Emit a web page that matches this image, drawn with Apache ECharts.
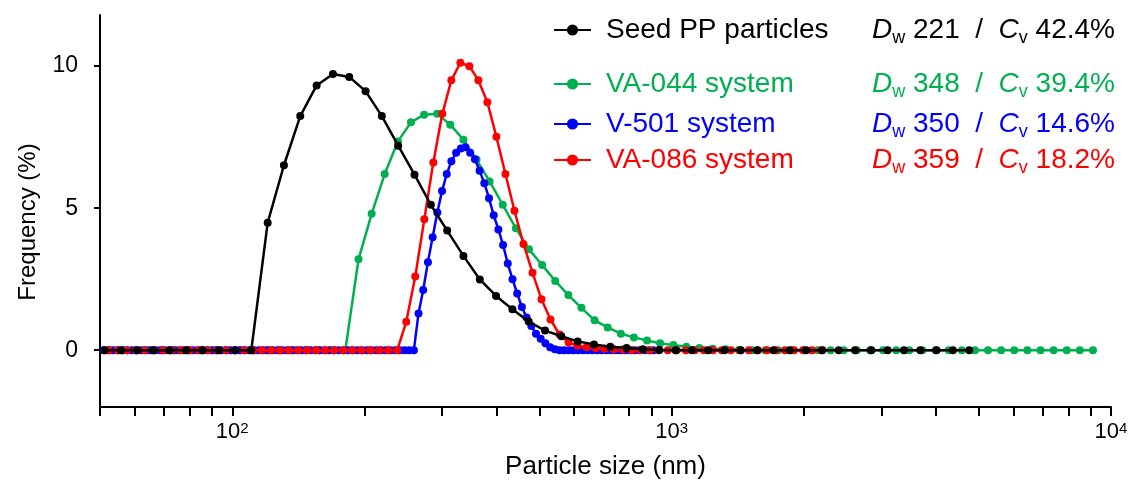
<!DOCTYPE html>
<html>
<head>
<meta charset="utf-8">
<script src="https://cdn.jsdelivr.net/npm/echarts@6/dist/echarts.min.js"></script>
<style>
  html, body { margin: 0; padding: 0; background: #ffffff; }
  #chart { width: 1139px; height: 486px; }
</style>
</head>
<body>
<div id="chart"></div>
<script>
// Particle size distributions (size in nm, frequency in %)
const seriesNames = ['Seed PP particles', 'VA-044 system', 'V-501 system', 'VA-086 system'];
const seriesColors = ['#000000', '#00b050', '#0000ff', '#ff0000'];
const dwValues = [221, 348, 350, 359];
const cvValues = ['42.4', '39.4', '14.6', '18.2'];

const seedSize = [
  51.20, 55.77, 60.75, 66.17, 72.08, 78.51, 85.52, 93.15, 101.5, 110.5,
  120.4, 131.1, 142.8, 155.6, 169.5, 184.6, 201.1, 219.0, 238.6, 259.9,
  283.1, 308.4, 335.9, 365.9, 398.5, 434.1, 472.8, 515.1, 561.0, 611.1,
  665.7, 725.1, 789.8, 860.3, 937.1, 1021, 1112, 1211, 1319, 1437,
  1565, 1705, 1857, 2023, 2204, 2400, 2615, 2848, 3102, 3379,
  3681, 4009, 4367, 4757
];
const seedFreq = [
  0, 0, 0, 0, 0, 0, 0, 0, 0, 0,
  4.49, 6.51, 8.24, 9.32, 9.72, 9.62, 9.12, 8.24, 7.20, 6.18,
  5.12, 4.21, 3.32, 2.49, 1.91, 1.44, 1.01, 0.69, 0.49, 0.31,
  0.20, 0.12, 0.08, 0.03, 0.01, 0, 0, 0, 0, 0,
  0, 0, 0, 0, 0, 0, 0, 0, 0, 0,
  0, 0, 0, 0
];

const va044Size = [
  52.50, 56.24, 60.24, 64.52, 69.11, 74.03, 79.30, 84.94, 90.98, 97.46,
  104.4, 111.8, 119.8, 128.3, 137.4, 147.2, 157.7, 168.9, 180.9, 193.8,
  207.6, 222.3, 238.2, 255.1, 273.3, 292.7, 313.5, 335.8, 359.7, 385.3,
  412.7, 442.1, 473.5, 507.2, 543.3, 582.0, 623.4, 667.8, 715.3, 766.2,
  820.7, 879.1, 941.6, 1009, 1080, 1157, 1240, 1328, 1422, 1524,
  1632, 1748, 1872, 2006, 2148, 2301, 2465, 2640, 2828, 3029,
  3245, 3476, 3723, 3988, 4272, 4576, 4901, 5250, 5623, 6023,
  6452, 6911, 7403, 7930, 8494, 9098
];
const va044Freq = [
  0, 0, 0, 0, 0, 0, 0, 0, 0, 0,
  0, 0, 0, 0, 0, 0, 0, 0, 0, 3.20,
  4.80, 6.20, 7.35, 8.02, 8.29, 8.32, 7.94, 7.41, 6.71, 5.94,
  5.12, 4.29, 3.55, 3.00, 2.44, 1.94, 1.49, 1.05, 0.80, 0.58,
  0.45, 0.34, 0.24, 0.18, 0.12, 0.08, 0.05, 0.03, 0.01, 0,
  0, 0, 0, 0, 0, 0, 0, 0, 0, 0,
  0, 0, 0, 0, 0, 0, 0, 0, 0, 0,
  0, 0, 0, 0, 0, 0
];

const v501Size = [
  50.98, 52.25, 53.55, 54.89, 56.26, 57.66, 59.10, 60.57, 62.08, 63.63,
  65.21, 66.84, 68.51, 70.21, 71.96, 73.76, 75.60, 77.48, 79.41, 81.39,
  83.42, 85.50, 87.63, 89.82, 92.06, 94.35, 96.71, 99.12, 101.6, 104.1,
  106.7, 109.4, 112.1, 114.9, 117.8, 120.7, 123.7, 126.8, 130.0, 133.2,
  136.5, 139.9, 143.4, 147.0, 150.6, 154.4, 158.2, 162.2, 166.2, 170.4,
  174.6, 179.0, 183.4, 188.0, 192.7, 197.5, 202.4, 207.5, 212.7, 218.0,
  223.4, 229.0, 234.7, 240.5, 246.5, 252.7, 259.0, 265.4, 272.0, 278.8,
  285.8, 292.9, 300.2, 307.7, 315.3, 323.2, 331.3, 339.5, 348.0, 356.7,
  365.5, 374.7, 384.0, 393.6, 403.4, 413.4, 423.7, 434.3, 445.1, 456.2,
  467.6, 479.3, 491.2, 503.5, 516.0, 528.9, 542.1, 555.6, 569.4, 583.6,
  598.2, 613.1, 628.4, 644.0, 660.1, 676.5, 693.4, 710.7, 728.4, 746.6,
  765.2, 784.3, 803.8, 823.8, 844.4, 865.4, 887.0, 909.1
];
const v501Freq = [
  0, 0, 0, 0, 0, 0, 0, 0, 0, 0,
  0, 0, 0, 0, 0, 0, 0, 0, 0, 0,
  0, 0, 0, 0, 0, 0, 0, 0, 0, 0,
  0, 0, 0, 0, 0, 0, 0, 0, 0, 0,
  0, 0, 0, 0, 0, 0, 0, 0, 0, 0,
  0, 0, 0, 0, 0, 0, 0, 0, 0, 0,
  0, 0, 0, 0, 0, 0, 0, 1.29, 2.12, 3.10,
  3.98, 4.85, 5.60, 6.20, 6.65, 6.95, 7.10, 7.14, 6.95, 6.72,
  6.32, 5.88, 5.35, 4.75, 4.25, 3.70, 3.05, 2.50, 2.00, 1.52,
  1.15, 0.85, 0.58, 0.40, 0.24, 0.10, 0.03, 0, 0, 0,
  0, 0, 0, 0, 0, 0, 0, 0, 0, 0,
  0, 0, 0, 0, 0, 0, 0, 0
];

const va086Size = [
  52.33, 54.86, 57.52, 60.30, 63.22, 66.28, 69.48, 72.85, 76.37, 80.07,
  83.94, 88.00, 92.26, 96.73, 101.4, 106.3, 111.5, 116.9, 122.5, 128.4,
  134.6, 141.2, 148.0, 155.2, 162.7, 170.5, 178.8, 187.4, 196.5, 206.0,
  216.0, 226.4, 237.4, 248.9, 260.9, 273.6, 286.8, 300.7, 315.2, 330.5,
  346.5, 363.2, 380.8, 399.2, 418.6, 438.8, 460.0, 482.3, 505.6, 530.1,
  555.8, 582.7, 610.9, 640.4, 671.4, 703.9, 738.0, 773.7, 811.1, 850.4,
  891.5, 934.6, 979.9, 1027, 1077, 1129, 1184, 1241, 1301, 1364,
  1430, 1499, 1572, 1648, 1728, 1811, 1899, 1991, 2087, 2188
];
const va086Freq = [
  0, 0, 0, 0, 0, 0, 0, 0, 0, 0,
  0, 0, 0, 0, 0, 0, 0, 0, 0, 0,
  0, 0, 0, 0, 0, 0, 0, 0, 0, 0,
  0, 0, 0, 1.00, 2.59, 4.61, 6.61, 8.32, 9.50, 10.12,
  10.00, 9.50, 8.73, 7.51, 6.20, 4.91, 3.74, 2.73, 1.79, 1.08,
  0.55, 0.27, 0.16, 0.10, 0.07, 0.05, 0.03, 0.02, 0, 0,
  0, 0, 0, 0, 0, 0, 0, 0, 0, 0,
  0, 0, 0, 0, 0, 0, 0, 0, 0, 0
];

// Axis ticks: log x axis with minor ticks at 2..9 x 10^n
const xTickValues = [50, 60, 70, 80, 90, 100, 200, 300, 400, 500, 600, 700, 800, 900,
  1000, 2000, 3000, 4000, 5000, 6000, 7000, 8000, 9000, 10000];
const xLabelValues = [100, 1000, 10000];
const yTickValues = [0, 5, 10];

const FONT = "'Liberation Sans', Arial, sans-serif";
const LEG_SIZE = 28;

const sizes = [seedSize, va044Size, v501Size, va086Size];
const freqs = [seedFreq, va044Freq, v501Freq, va086Freq];
const legendTops = [13, 67, 107, 143];

function pairs(xs, ys) {
  return xs.map((x, i) => [x, ys[i]]);
}

const chart = echarts.init(document.getElementById('chart'), null, { renderer: 'canvas' });

// drawing order: green underneath, black on top
const drawOrder = [1, 2, 3, 0];

const series = drawOrder.map(k => ({
  name: seriesNames[k],
  type: 'line',
  data: pairs(sizes[k], freqs[k]),
  symbol: 'circle',
  symbolSize: 8,
  showSymbol: true,
  color: seriesColors[k],
  lineStyle: { color: seriesColors[k], width: 2.5 },
  itemStyle: { color: seriesColors[k] },
  emphasis: { disabled: true },
  z: 2 + drawOrder.indexOf(k)
}));

const legends = seriesNames.map((name, k) => {
  const c = seriesColors[k];
  const base = { color: c, fontFamily: FONT, fontSize: LEG_SIZE, lineHeight: 34 };
  return {
    data: [{ name: name }],
    left: 553,
    top: legendTops[k],
    padding: 0,
    itemWidth: 37,
    itemHeight: 14,
    selectedMode: false,
    formatter: n => `{n|${n}}{i|D}{s|w}{t| ${dwValues[k]}  /  }{i|C}{s|v}{t| ${cvValues[k]}%}`,
    textStyle: Object.assign({}, base, {
      rich: {
        n: Object.assign({}, base, { width: 266, padding: [0, 0, 0, 10] }),
        i: Object.assign({}, base, { fontStyle: 'italic' }),
        s: { color: c, fontFamily: FONT, fontSize: 18, verticalAlign: 'bottom', lineHeight: 26 },
        t: base
      }
    })
  };
});

chart.setOption({
  animation: false,
  backgroundColor: '#ffffff',
  grid: { left: 100, right: 28, top: 15, bottom: 79 },
  legend: legends,
  xAxis: {
    type: 'log',
    logBase: 10,
    min: 50,
    max: 10000,
    name: 'Particle size (nm)',
    nameLocation: 'middle',
    nameGap: 47,
    nameTextStyle: { color: '#000', fontFamily: FONT, fontSize: 26 },
    axisLine: { show: true, onZero: false, lineStyle: { color: '#000', width: 2 } },
    axisTick: { show: true, customValues: xTickValues, length: 9, lineStyle: { color: '#000', width: 2 } },
    minorTick: { show: false },
    splitLine: { show: false },
    axisLabel: {
      customValues: xLabelValues,
      margin: 14,
      color: '#000',
      fontFamily: FONT,
      fontSize: 22,
      formatter: v => '10{sup|' + Math.round(Math.log10(v)) + '}',
      rich: {
        sup: { fontFamily: FONT, fontSize: 15, color: '#000', verticalAlign: 'top', lineHeight: 14 }
      }
    }
  },
  yAxis: {
    type: 'value',
    min: -2,
    max: 11.8,
    name: 'Frequency (%)',
    nameLocation: 'middle',
    nameGap: 60,
    nameRotate: 90,
    nameTextStyle: { color: '#000', fontFamily: FONT, fontSize: 24, padding: [0, 22, 0, 0] },
    axisLine: { show: true, lineStyle: { color: '#000', width: 2 } },
    axisTick: { show: true, customValues: yTickValues, length: 6, lineStyle: { color: '#000', width: 2 } },
    splitLine: { show: false },
    axisLabel: {
      customValues: yTickValues,
      margin: 22,
      color: '#000',
      fontFamily: FONT,
      fontSize: 23
    }
  },
  series: series
});
</script>
</body>
</html>
